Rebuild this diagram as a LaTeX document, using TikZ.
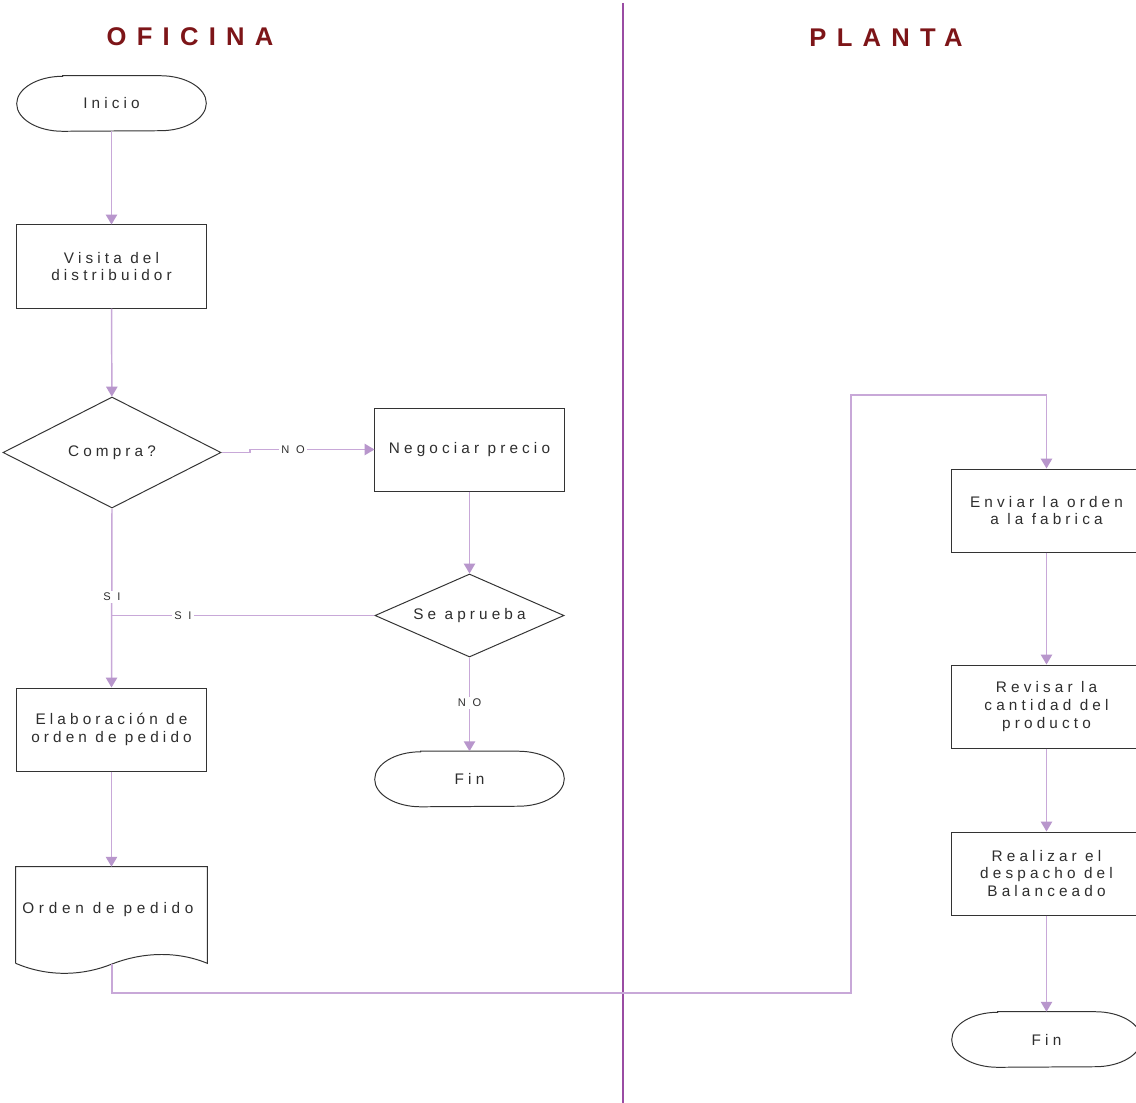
\documentclass[tikz,border=0pt]{standalone}
\usepackage{fontspec}
\setmainfont{Liberation Sans}
\newfontfamily\boxfont[LetterSpace=27]{Liberation Sans}
\newfontfamily\docfont[LetterSpace=31]{Liberation Sans}
\newfontfamily\labelfont[LetterSpace=60]{Liberation Sans}
\newfontfamily\titlefont[LetterSpace=40]{Liberation Sans}
\usetikzlibrary{arrows.meta,shapes.geometric}

\definecolor{titlered}{HTML}{7D1518}
\definecolor{lanepurple}{HTML}{9A4CA3}
\definecolor{flowline}{HTML}{C8A8D8}
\definecolor{flowtip}{HTML}{B896CC}
\definecolor{shapeedge}{HTML}{333333}
\definecolor{inktext}{HTML}{2E2E2E}

\tikzset{
  shapeline/.style={draw=shapeedge, line width=0.7pt},
  boxtext/.style={font=\boxfont\fontsize{10.9}{12.6}\selectfont, text=inktext, align=center, inner sep=0pt},
  procbox/.style={boxtext, shapeline, rectangle, minimum width=4.725cm, minimum height=2.075cm},
  termbox/.style={boxtext, rectangle, minimum width=4.725cm, minimum height=1.375cm},
  decbox/.style={boxtext, shapeline, diamond, inner sep=0pt},
  lanetitle/.style={font=\titlefont\bfseries\fontsize{18.2}{20}\selectfont, text=titlered},
  flow/.style={draw=flowline, line width=1.05pt},
  flowarrow/.style={flow, -{Triangle[width=8pt,length=7pt,fill=flowtip,color=flowtip]}},
  flowlabel/.style={font=\labelfont\fontsize{7.9}{9}\selectfont, text=inktext, fill=white, inner sep=1.5pt},
}

% stadium outline drawn round a named terminal node
\newcommand\stadiumoutline[1]{%
  \draw[shapeline] ([xshift=1.15cm]#1.north west) -- ([xshift=-1.15cm]#1.north east)
    arc[start angle=90, end angle=-90, x radius=1.15cm, y radius=0.6875cm]
    -- ([xshift=1.15cm]#1.south west)
    arc[start angle=270, end angle=90, x radius=1.15cm, y radius=0.6875cm] -- cycle;}

\begin{document}
\begin{tikzpicture}[x=0.025cm, y=-0.025cm]
\clip (0,0) rectangle (1136,1103);
\fill[white] (0,0) rectangle (1136,1103);

% lane titles and divider
\node[lanetitle] (oficina) at (190,37) {OFICINA};
\node[lanetitle] (planta) at (886,38) {PLANTA};
\coordinate (divtop) at (623,3);
\coordinate (divbot) at (623,1103);
\draw[draw=lanepurple, line width=1.4pt] (divtop) -- (divbot);

% OFICINA lane
\node[termbox] (inicio) at (111.5,103.5) {Inicio};
\stadiumoutline{inicio}
\node[procbox] (visita) at (111.5,266.5) {Visita del\\distribuidor};
\node[decbox, minimum width=5.45cm, minimum height=2.775cm, aspect=1.96] (compra) at (112,452.5) {Compra?};
\node[procbox] (negociar) at (469.5,449.5) {Negociar precio};
\node[decbox, minimum width=4.725cm, minimum height=2.075cm, aspect=2.28] (aprueba) at (469.5,615.5) {Se aprueba};
\node[termbox] (fin1) at (469.5,779) {Fin};
\stadiumoutline{fin1}
\node[procbox] (elabora) at (111.5,729.5) {Elaboración de\\orden de pedido};

% document shape with wavy bottom edge
\node[rectangle, minimum width=4.775cm, minimum height=2.4cm, inner sep=0pt] (orden) at (111.5,915) {};
\draw[shapeline] (orden.south west) -- (orden.north west) -- (orden.north east) -- (orden.south east)
  .. controls (175,950) and (140,953) .. (112,964)
  .. controls (85,975) and (50,978) .. (orden.south west);
\node[boxtext, anchor=west, font=\docfont\fontsize{10.9}{12.6}\selectfont] (ordentext) at (22,910) {Orden de pedido};
\coordinate (ordenwave) at (112,964);

% PLANTA lane
\node[procbox] (enviar) at (1046.5,510.5) {Enviar la orden\\a la fabrica};
\node[procbox] (revisar) at (1046.5,706.5) {Revisar la\\cantidad del\\producto};
\node[procbox] (despacho) at (1046.5,873.5) {Realizar el\\despacho del\\Balanceado};
\node[termbox] (fin2) at (1046.5,1039.5) {Fin};
\stadiumoutline{fin2}

% connectors
\draw[flowarrow] (inicio) -- (visita);
\draw[flowarrow] (visita) -- (compra);
\draw[flowarrow] (compra.east) -- (250,452.5) -- (250,449.5) -- (negociar.west);
\node[flowlabel] (lblno1) at (293,449.5) {NO};
\draw[flowarrow] (negociar) -- (aprueba);
\draw[flowarrow] (compra.south) -- (elabora.north);
\draw[flow] (aprueba.west) -- (112,615.5);
\node[flowlabel] (lblsi1) at (112,597) {SI};
\node[flowlabel] (lblsi2) at (183,615.5) {SI};
\draw[flowarrow] (aprueba.south) -- (fin1.north);
\node[flowlabel] (lblno2) at (469.5,703) {NO};
\draw[flowarrow] (elabora) -- (orden.north);
\draw[flowarrow] (ordenwave) -- (112,993) -- (851,993) -- (851,395) -- (1046.5,395) -- (enviar.north);
\draw[flowarrow] (enviar) -- (revisar);
\draw[flowarrow] (revisar) -- (despacho);
\draw[flowarrow] (despacho) -- (fin2);
\end{tikzpicture}
\end{document}
